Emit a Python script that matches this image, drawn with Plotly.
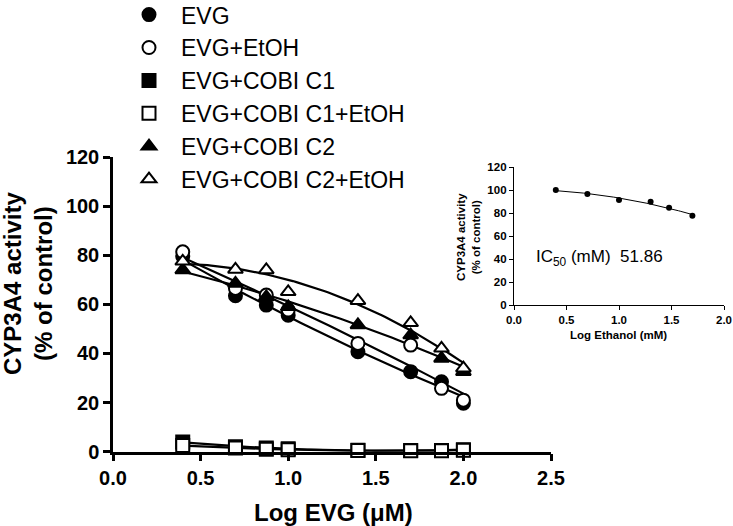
import numpy as np
import plotly.graph_objects as go

# Datos (log de la concentración de EVG en µM)
log_evg = [0.398, 0.699, 0.875, 1.0, 1.398, 1.699, 1.875, 2.0]

evg = [79.5, 63.5, 59.7, 55.6, 40.7, 32.6, 28.5, 19.7]
evg_etoh = [81.4, 66.5, 63.8, 57.7, 44.1, 43.4, 25.8, 21.0]
cobi_c1 = [4.0, 2.0, 1.5, 1.2, 0.6, 0.5, 0.5, 0.8]
cobi_c1_etoh = [2.5, 1.5, 1.0, 0.8, 0.5, 0.4, 0.4, 0.6]
cobi_c2 = [74.0, 68.5, 63.0, 59.0, 51.6, 47.5, 38.0, 32.6]
cobi_c2_etoh = [77.5, 74.2, 74.0, 65.1, 61.5, 52.5, 42.1, 34.0]

# Recuadro: etanol
log_etanol = [0.398, 0.699, 1.0, 1.301, 1.477, 1.699]
act_etanol = [100.0, 96.5, 91.4, 89.7, 84.6, 77.7]

FUENTE = "Arial, Liberation Sans, sans-serif"

series = [
    ("EVG", evg, "circle", "black"),
    ("EVG+EtOH", evg_etoh, "circle", "white"),
    ("EVG+COBI C1", cobi_c1, "square", "black"),
    ("EVG+COBI C1+EtOH", cobi_c1_etoh, "square", "white"),
    ("EVG+COBI C2", cobi_c2, "triangle-up", "black"),
    ("EVG+COBI C2+EtOH", cobi_c2_etoh, "triangle-up", "white"),
]

fig = go.Figure()

# Curvas de ajuste (polinomio de grado 2 sobre los datos)
xs = np.linspace(min(log_evg), max(log_evg), 80)
for nombre, vals, simbolo, relleno in series:
    coef = np.polyfit(log_evg, vals, 2)
    fig.add_trace(go.Scatter(x=xs, y=np.polyval(coef, xs), mode="lines",
                             line=dict(color="black", width=2.2),
                             showlegend=False, hoverinfo="skip", cliponaxis=False))

for i, (nombre, vals, simbolo, relleno) in enumerate(series):
    fig.add_trace(go.Scatter(
        x=log_evg, y=vals, mode="markers", name=nombre, legendgroup=str(i),
        marker=dict(symbol=simbolo, size=13, color=relleno, line=dict(color="black", width=2)),
        cliponaxis=False))

# Recuadro
xs2 = np.linspace(min(log_etanol), max(log_etanol), 60)
coef2 = np.polyfit(log_etanol, act_etanol, 2)
fig.add_trace(go.Scatter(x=xs2, y=np.polyval(coef2, xs2), mode="lines", xaxis="x2", yaxis="y2",
                         line=dict(color="black", width=1), showlegend=False, hoverinfo="skip"))
fig.add_trace(go.Scatter(x=log_etanol, y=act_etanol, mode="markers", xaxis="x2", yaxis="y2",
                         marker=dict(symbol="circle", size=6, color="black"), showlegend=False,
                         cliponaxis=False))

eje_principal = dict(showline=True, linecolor="black", linewidth=2.5, ticks="outside",
                     ticklen=7, tickwidth=2.5, tickcolor="black", showgrid=False, zeroline=False,
                     automargin=False,
                     tickfont=dict(family=FUENTE, size=20, color="black", weight="bold"))
eje_recuadro = dict(showline=True, linecolor="black", linewidth=1.3, ticks="outside",
                    ticklen=4, tickwidth=1.3, tickcolor="black", showgrid=False, zeroline=False,
                    automargin=False,
                    tickfont=dict(family=FUENTE, size=11.5, color="black", weight="bold"))

fig.update_layout(
    width=733, height=526,
    margin=dict(l=0, r=0, t=0, b=0, autoexpand=False),
    plot_bgcolor="white", paper_bgcolor="white",
    font=dict(family=FUENTE, color="black"),
    xaxis=dict(eje_principal, domain=[113 / 733, 551 / 733], range=[0, 2.5], dtick=0.5,
               tickformat=".1f", anchor="y"),
    yaxis=dict(eje_principal, domain=[74.3 / 526, 369 / 526], range=[0, 120], dtick=20,
               anchor="x"),
    xaxis2=dict(eje_recuadro, domain=[514 / 733, 724 / 733], range=[0, 2], dtick=0.5,
                tickformat=".1f", anchor="y2"),
    yaxis2=dict(eje_recuadro, domain=[221 / 526, 359 / 526], range=[0, 120], dtick=20,
                anchor="x2"),
    legend=dict(x=117 / 733, y=1.013, xanchor="left", yanchor="top", tracegroupgap=0,
                itemwidth=54,
                font=dict(family=FUENTE, size=23, color="black"), bgcolor="rgba(0,0,0,0)",
                traceorder="grouped"),
    showlegend=True,
)

anotaciones = [
    dict(text="CYP3A4 activity<br>(% of control)", x=28 / 733, y=1 - 284 / 526, textangle=-90,
         font=dict(size=24, weight="bold")),
    dict(text="Log EVG (\u03bcM)", x=333 / 733, y=1 - 512 / 526, font=dict(size=24, weight="bold")),
    dict(text="CYP3A4 activity<br>(% of control)", x=468 / 733, y=1 - 237 / 526, textangle=-90,
         font=dict(size=11.5, weight="bold")),
    dict(text="Log Ethanol (mM)", x=618 / 733, y=1 - 335 / 526, font=dict(size=11.5, weight="bold")),
    dict(text="IC<sub>50</sub> (mM)  51.86", x=599 / 733, y=1 - 258 / 526, font=dict(size=17)),
]
for a in anotaciones:
    fig.add_annotation(xref="paper", yref="paper", showarrow=False, xanchor="center",
                       yanchor="middle", **a)

# Quitar el margen por defecto del <body> para que la figura empiece en (0, 0)
fig.write_html("out.html", config={"displayModeBar": False},
               post_script="document.body.style.margin='0';")
